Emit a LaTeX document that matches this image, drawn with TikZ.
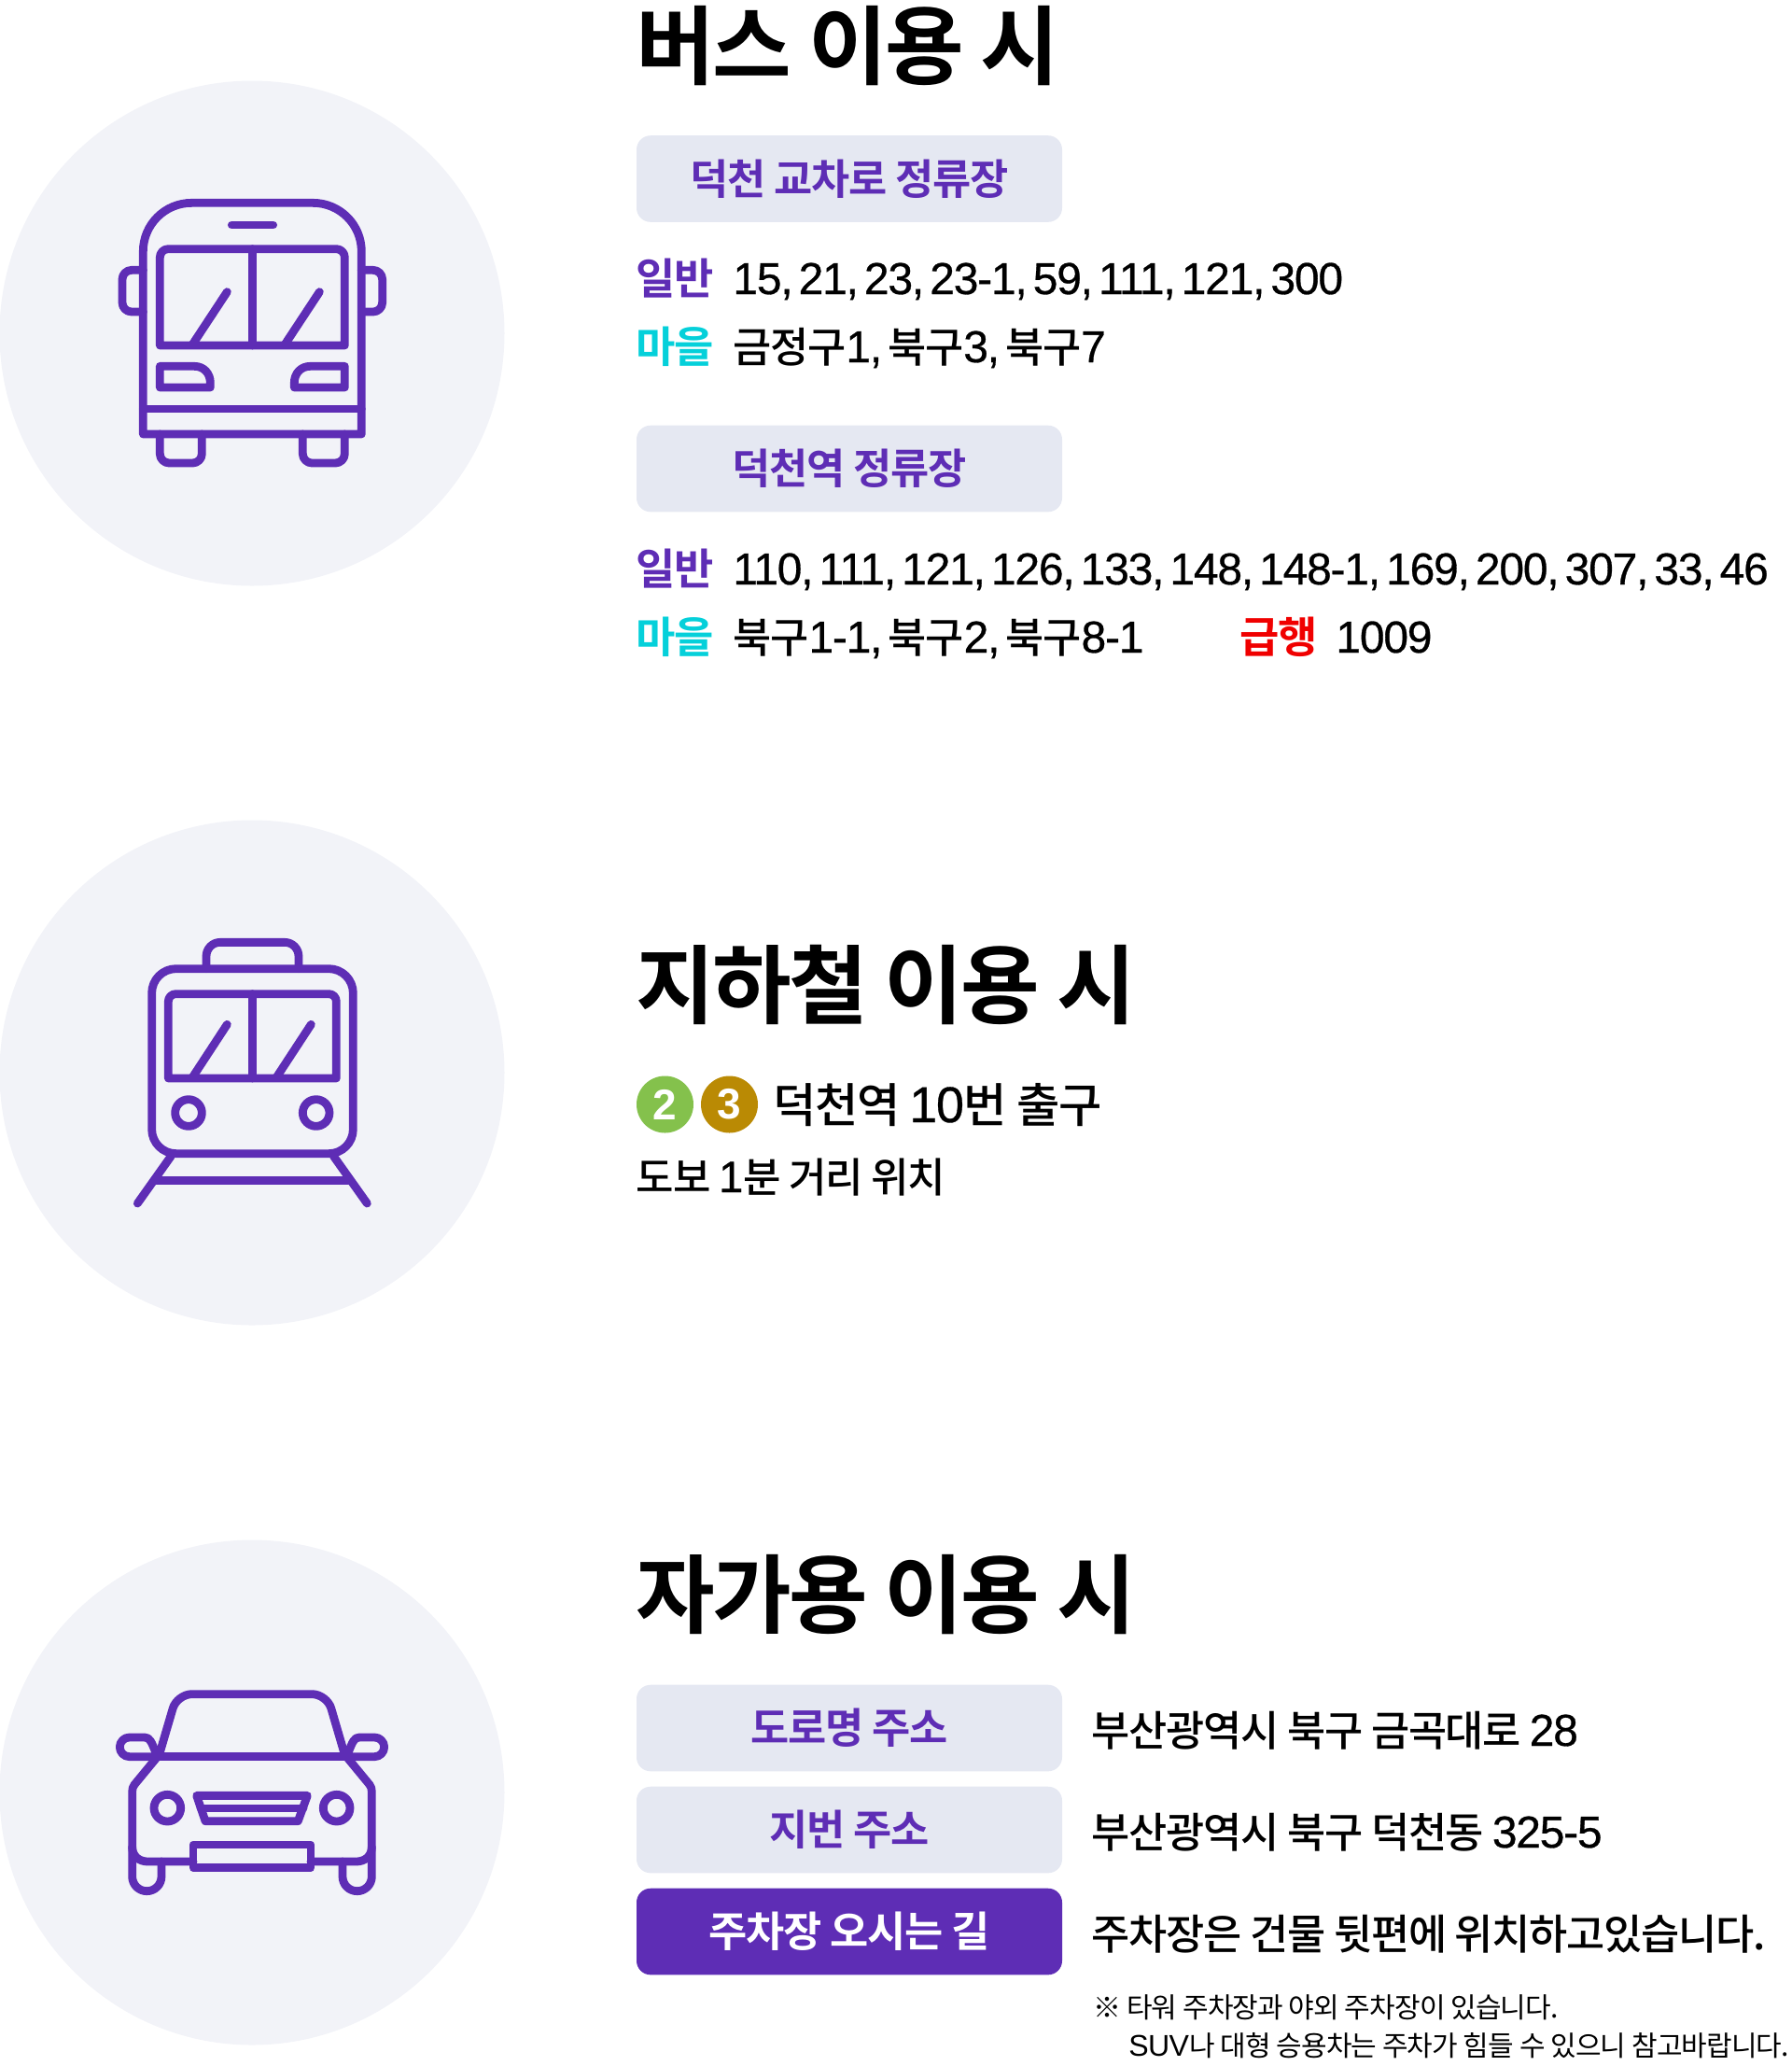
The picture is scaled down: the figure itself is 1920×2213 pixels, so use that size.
\documentclass[tikz,border=0pt]{standalone}
\usepackage{fontspec}
\setmainfont{Noto Sans CJK KR}[LetterSpace=-3]
\newfontfamily\krmed{Noto Sans CJK KR Medium}[LetterSpace=-3]
\newfontfamily\krbold{Noto Sans CJK KR Bold}[LetterSpace=-3]
\newfontfamily\numfont{Liberation Sans}[Scale=1.07, FakeBold=0.6, LetterSpace=-2.5, WordSpace=0.5]
\newfontfamily\numbold{Liberation Sans}[Scale=1.07]
\newfontfamily\numlight{Liberation Sans}[Scale=1.07, LetterSpace=-2]
\def\nm#1{{\numfont #1}}
\definecolor{iconpurple}{HTML}{5E2DB5}
\definecolor{circlegray}{HTML}{F2F3F8}
\definecolor{taggray}{HTML}{E5E8F2}
\definecolor{villagecyan}{HTML}{05D0DA}
\definecolor{expressred}{HTML}{F00000}
\definecolor{linegreen}{HTML}{84C14C}
\definecolor{linegold}{HTML}{BA8A04}
\tikzset{
  bgcircle/.style={circle, fill=circlegray, minimum size=270.5pt, inner sep=0pt},
  icon/.style={draw=iconpurple, line width=4.4pt, line join=round, line cap=round},
  title/.style={anchor=base west, inner sep=0pt, font=\krbold\fontsize{46}{46}\selectfont},
  tag/.style={rectangle, rounded corners=7.5pt, fill=taggray, minimum width=228pt, minimum height=46.3pt, inner sep=0pt,
    text=iconpurple, font=\krbold\fontsize{22.4}{22.4}\selectfont},
  tagdark/.style={tag, fill=iconpurple, text=white},
  kind/.style={anchor=base west, inner sep=0pt, font=\krbold\fontsize{23}{23}\selectfont},
  info/.style={anchor=base west, inner sep=0pt, font=\krmed\fontsize{22.4}{22.4}\selectfont},
  note/.style={anchor=base west, inner sep=0pt, font=\fontsize{15}{15}\selectfont},
  linemark/.style={circle, minimum size=30.5pt, inner sep=0pt, text=white, font=\numbold\bfseries\fontsize{21.5}{21.5}\selectfont}
}
\begin{document}
\begin{tikzpicture}[x=0.5pt, y=-0.5pt]
  \useasboundingbox (0,0) rectangle (1920,2213);
  % circles behind the icons
  \node[bgcircle] (buscircle) at (270,357) {};
  \node[bgcircle] (subwaycircle) at (270,1149) {};
  \node[bgcircle] (carcircle) at (270,1920) {};

  % bus
  \begin{scope}[shift={(100,190)}, scale=1/3]
    \draw[icon] (160,825) -- (160,240) [rounded corners=26pt] -- (160,82) -- (862,82) [sharp corners] -- (862,240) -- (862,825) -- cycle;
    \draw[icon] (160,744) -- (862,744);
    \draw[icon] (445,153) -- (578,153);
    \draw[icon] (214,540) [rounded corners=4.5pt] -- (214,230) -- (808,230) [sharp corners] -- (808,540) -- cycle;
    \draw[icon] (511,230) -- (511,540);
    \draw[icon] (430,368) -- (320,535);
    \draw[icon] (727,368) -- (617,535);
    \draw[icon] (214,607) -- (325,607) .. controls (355,607) and (376,630) .. (376,660) -- (376,675) -- (214,675) -- cycle;
    \draw[icon] (808,607) -- (697,607) .. controls (667,607) and (646,630) .. (646,660) -- (646,675) -- (808,675) -- cycle;
    \draw[icon, rounded corners=5pt] (214,825) -- (214,918) -- (349,918) -- (349,825);
    \draw[icon, rounded corners=5pt] (673,825) -- (673,918) -- (808,918) -- (808,825);
    \draw[icon, rounded corners=5pt] (160,298) -- (93,298) -- (93,432) -- (160,432);
    \draw[icon, rounded corners=5pt] (862,298) -- (929,298) -- (929,432) -- (862,432);
  \end{scope}

  % subway
  \begin{scope}[shift={(120,990)}, scale=1/3]
    \draw[icon, rounded corners=13pt] (128,440) -- (128,143) -- (775,143) -- (775,737) -- (128,737) -- cycle;
    \draw[icon, rounded corners=7.5pt] (303,143) -- (303,58) -- (600,58) -- (600,143);
    \draw[icon] (181,495) [rounded corners=4pt] -- (181,224) -- (721,224) [sharp corners] -- (721,495) -- cycle;
    \draw[icon] (451,224) -- (451,495);
    \draw[icon] (370,322) -- (260,490);
    \draw[icon] (640,322) -- (530,490);
    \draw[icon] (246,606) circle (43);
    \draw[icon] (656,606) circle (43);
    \draw[icon] (190,745) -- (82,897);
    \draw[icon] (712,745) -- (820,897);
    \draw[icon] (140,824) -- (762,824);
  \end{scope}

  % car
  \begin{scope}[shift={(110,1790)}, scale=1/3]
    \draw[icon, rounded corners=8pt] (180,275) -- (239,74) -- (721,74) -- (780,275);
    \draw[icon] (172,275) -- (788,275);
    \draw[icon] (172,275) -- (86,275) arc (90:270:31) -- (135,213) .. controls (152,213) and (157,228) .. (172,265);
    \draw[icon] (788,275) -- (874,275) arc (90:-90:31) -- (825,213) .. controls (808,213) and (803,228) .. (788,265);
    \draw[icon] (172,280) -- (102,365) .. controls (97,372) and (95,378) .. (95,388) -- (95,565) .. controls (95,595) and (118,612) .. (145,612) -- (291,612);
    \draw[icon] (788,280) -- (858,365) .. controls (863,372) and (865,378) .. (865,388) -- (865,565) .. controls (865,595) and (842,612) .. (815,612) -- (669,612);
    \draw[icon] (291,558) rectangle (669,632);
    \draw[icon] (95,565) -- (95,660) arc (180:0:47) -- (189,612);
    \draw[icon] (865,565) -- (865,660) arc (0:180:47) -- (771,612);
    \draw[icon] (208,440) circle (43);
    \draw[icon] (752,440) circle (43);
    \draw[icon] (302,400) -- (658,400) -- (628,482) -- (330,482) -- cycle;
    \draw[icon] (315,441) -- (645,441);
  \end{scope}

  % bus text
  \node[title] (bustitle) at (681,83) {버스 이용 시};
  \node[tag] (stopone) at (910,191.5) {덕천 교차로 정류장};
  \node[kind, text=iconpurple] (normalone) at (681.5,315) {일반};
  \node[info] (normalonelist) at (785,315) {\nm{15, 21, 23, 23-1, 59, 111, 121, 300}};
  \node[kind, text=villagecyan] (villageone) at (681.5,388) {마을};
  \node[info] (villageonelist) at (785,388) {금정구\nm{1, }북구\nm{3, }북구\nm{7}};
  \node[tag] (stoptwo) at (910,502) {덕천역 정류장};
  \node[kind, text=iconpurple] (normaltwo) at (681.5,626) {일반};
  \node[info] (normaltwolist) at (785,626) {\nm{110, 111, 121, 126, 133, 148, 148-1, 169, 200, 307, 33, 46}};
  \node[kind, text=villagecyan] (villagetwo) at (681.5,699) {마을};
  \node[info] (villagetwolist) at (785,699) {북구\nm{1-1, }북구\nm{2, }북구\nm{8-1}};
  \node[kind, text=expressred] (express) at (1328,699) {급행};
  \node[info] (expresslist) at (1431,699) {\nm{1009}};

  % subway text
  \node[title] (subwaytitle) at (681,1089) {지하철 이용 시};
  \node[linemark, fill=linegreen] (linetwo) at (712.5,1183) {2};
  \node[linemark, fill=linegold] (linethree) at (781.5,1183) {3};
  \node[info, font=\krmed\fontsize{25.2}{25.2}\selectfont] (exitinfo) at (828,1202) {덕천역 \nm{10}번 출구};
  \node[info, font=\krmed\fontsize{22}{22}\selectfont] (walkinfo) at (681.5,1277) {도보 \nm{1}분 거리 위치};

  % car text
  \node[title] (cartitle) at (681,1742) {자가용 이용 시};
  \node[tag] (roadtag) at (910,1851) {도로명 주소};
  \node[info] (roadinfo) at (1169.5,1870) {부산광역시 북구 금곡대로 \nm{28}};
  \node[tag] (lottag) at (910,1960) {지번 주소};
  \node[info] (lotinfo) at (1169.5,1979) {부산광역시 북구 덕천동 \nm{325-5}};
  \node[tagdark] (parktag) at (910,2069) {주차장 오시는 길};
  \node[info] (parkinfo) at (1169.5,2088) {주차장은 건물 뒷편에 위치하고있습니다.};
  \node[note] (noteone) at (1171,2161) {※ 타워 주차장과 야외 주차장이 있습니다.};
  \node[note] (notetwo) at (1209,2202) {{\numlight SUV}나 대형 승용차는 주차가 힘들 수 있으니 참고바랍니다.};
\end{tikzpicture}
\end{document}
